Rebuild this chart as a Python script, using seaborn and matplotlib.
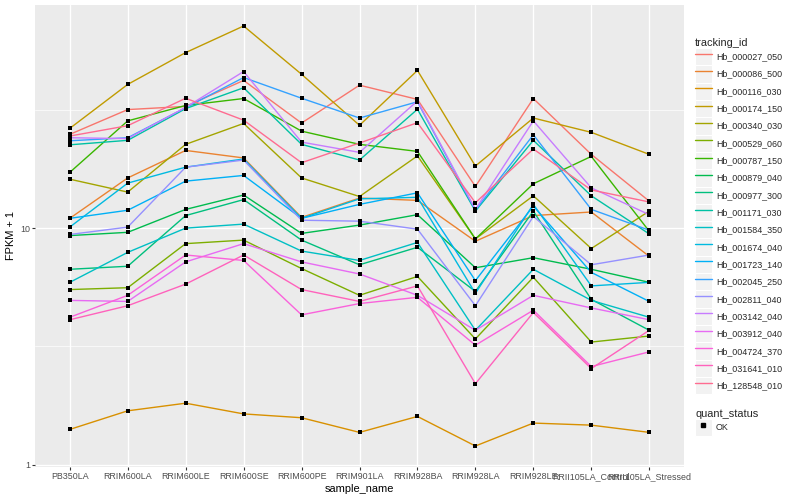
import numpy as np
import pandas as pd
import matplotlib
matplotlib.use("Agg")
import matplotlib.pyplot as plt
import seaborn as sns
from matplotlib.lines import Line2D
from matplotlib.patches import Rectangle
from matplotlib.legend_handler import HandlerLine2D
from matplotlib.ticker import FixedLocator, NullFormatter

# Данные: FPKM + 1 по образцам
samples = ["PB350LA", "RRIM600LA", "RRIM600LE", "RRIM600SE", "RRIM600PE", "RRIM901LA",
           "RRIM928BA", "RRIM928LA", "RRIM928LE", "RRII105LA_Control", "RRII105LA_Stressed"]

tracking_ids = ["Hb_000027_050", "Hb_000086_500", "Hb_000116_030", "Hb_000174_150",
                "Hb_000340_030", "Hb_000529_060", "Hb_000787_150", "Hb_000879_040",
                "Hb_000977_300", "Hb_001171_030", "Hb_001584_350", "Hb_001674_040",
                "Hb_001723_140", "Hb_002045_250", "Hb_002811_040", "Hb_003142_040",
                "Hb_003912_040", "Hb_004724_370", "Hb_031641_010", "Hb_128548_010"]

hb_000027_050 = [24.9, 31.7, 32.7, 42.1, 27.8, 40.2, 35.0, 15.0, 35.3, 20.5, 13.0]
hb_000086_500 = [11.0, 16.3, 21.3, 19.8, 11.1, 13.4, 13.1, 8.8, 11.3, 11.7, 7.6]
hb_000116_030 = [1.41, 1.69, 1.82, 1.64, 1.58, 1.37, 1.60, 1.20, 1.50, 1.47, 1.37]
hb_000174_150 = [26.4, 40.5, 55.2, 71.5, 44.7, 27.2, 46.4, 18.3, 29.2, 25.4, 20.5]
hb_000340_030 = [16.1, 14.2, 22.6, 27.7, 16.3, 13.6, 20.2, 9.0, 13.7, 8.2, 11.8]
hb_000529_060 = [5.5, 5.6, 8.6, 8.9, 6.75, 5.2, 6.25, 3.4, 6.2, 3.3, 3.5]
hb_000787_150 = [17.2, 28.4, 33.0, 35.3, 25.7, 22.6, 21.1, 9.0, 15.4, 20.1, 9.7]
hb_000879_040 = [9.3, 9.6, 12.0, 13.8, 9.5, 10.3, 11.4, 6.8, 7.5, 6.7, 5.9]
hb_000977_300 = [6.7, 6.9, 11.3, 13.2, 8.9, 7.0, 8.3, 5.4, 11.8, 5.0, 3.7]
hb_001171_030 = [22.5, 23.5, 32.0, 39.2, 22.6, 19.4, 31.8, 11.8, 23.5, 13.7, 9.45]
hb_001584_350 = [5.9, 7.9, 10.0, 10.4, 8.0, 7.3, 8.7, 3.7, 6.7, 4.95, 4.2]
hb_001674_040 = [10.1, 15.5, 18.1, 19.6, 11.0, 13.3, 13.5, 5.3, 12.6, 5.7, 5.9]
hb_001723_140 = [11.0, 11.9, 15.8, 16.7, 11.0, 12.6, 14.1, 6.0, 12.4, 6.5, 4.9]
hb_002045_250 = [23.4, 24.1, 32.3, 43.3, 35.4, 29.2, 34.2, 11.9, 24.8, 12.0, 9.8]
hb_002811_040 = [9.4, 10.1, 18.1, 19.4, 10.8, 10.7, 9.9, 4.7, 11.2, 7.0, 7.7]
hb_003142_040 = [24.1, 23.9, 32.4, 45.9, 23.1, 20.9, 34.5, 12.0, 28.4, 14.8, 11.4]
hb_003912_040 = [4.95, 4.9, 7.2, 8.6, 7.2, 6.4, 5.2, 3.7, 5.2, 4.6, 4.1]
hb_004724_370 = [4.2, 5.2, 7.7, 7.3, 4.3, 4.8, 5.1, 3.2, 4.5, 2.6, 3.0]
hb_031641_010 = [4.1, 4.7, 5.8, 7.7, 5.5, 4.9, 5.7, 2.2, 4.4, 2.55, 3.7]
hb_128548_010 = [24.5, 27.1, 35.4, 28.6, 18.9, 22.9, 27.9, 12.8, 21.6, 14.5, 12.9]

series = [hb_000027_050, hb_000086_500, hb_000116_030, hb_000174_150, hb_000340_030,
          hb_000529_060, hb_000787_150, hb_000879_040, hb_000977_300, hb_001171_030,
          hb_001584_350, hb_001674_040, hb_001723_140, hb_002045_250, hb_002811_040,
          hb_003142_040, hb_003912_040, hb_004724_370, hb_031641_010, hb_128548_010]

quant_status = "OK"

# палитра ggplot (hue_pal, 20 уровней)
hue_colors = ["#F8766D", "#EA8331", "#D89000", "#C09B00", "#A3A500", "#7CAE00", "#39B600",
              "#00BB4E", "#00BF7D", "#00C1A3", "#00BFC4", "#00BAE0", "#00B0F6", "#35A2FF",
              "#9590FF", "#C77CFF", "#E76BF3", "#FA62DB", "#FF62BC", "#FF6C91"]

rows = []
for tid, vals in zip(tracking_ids, series):
    for s, v in zip(samples, vals):
        rows.append({"tracking_id": tid, "sample_name": s, "fpkm": v, "quant_status": quant_status})
df = pd.DataFrame(rows)

sns.set_theme(style="darkgrid", rc={"axes.facecolor": "#EBEBEB", "grid.color": "white"})
plt.rcParams["font.family"] = ["Liberation Sans", "DejaVu Sans"]

fig = plt.figure(figsize=(8, 5), dpi=100)
ax = fig.add_axes([35 / 800, 33 / 500, 649 / 800, 462 / 500])
ax.set_yscale("log")

sns.lineplot(data=df, x="sample_name", y="fpkm", hue="tracking_id", palette=hue_colors,
             linewidth=1.0, sort=False, estimator=None, legend=False, ax=ax)
sns.scatterplot(data=df, x="sample_name", y="fpkm", color="black", marker="s", s=8,
                linewidth=0, legend=False, ax=ax, zorder=3)

# пределы как в ggplot (5% в лог-пространстве)
lo, hi = np.log10(df["fpkm"].min()), np.log10(df["fpkm"].max())
pad = 0.05 * (hi - lo)
ax.set_ylim(10 ** (lo - pad), 10 ** (hi + pad))
ax.set_xlim(-0.6, len(samples) - 0.4)

ax.set_yticks([1, 10])
ax.set_yticklabels(["1", "10"])
ax.yaxis.set_minor_locator(FixedLocator([10 ** 0.5, 10 ** 1.5]))
ax.yaxis.set_minor_formatter(NullFormatter())

ax.grid(which="major", color="white", linewidth=1.0)
ax.grid(which="minor", axis="y", color="white", linewidth=0.5)
ax.set_axisbelow(True)
for sp in ax.spines.values():
    sp.set_visible(False)

ax.tick_params(axis="both", which="major", length=2, width=0.8, color="#333333",
               labelcolor="#4D4D4D", labelsize=6.4, pad=1.6, bottom=True, left=True)
ax.tick_params(axis="y", which="minor", length=0)

ax.set_xlabel("sample_name", fontsize=7.9, color="black", labelpad=2)
ax.set_ylabel("FPKM + 1", fontsize=7.9, color="black", labelpad=3)


# ключи легенды на сером фоне, как в ggplot
class KeyHandler(HandlerLine2D):
    def create_artists(self, legend, orig_handle, xdescent, ydescent, width, height, fontsize, trans):
        arts = super().create_artists(legend, orig_handle, xdescent, ydescent, width, height, fontsize, trans)
        rect = Rectangle((-xdescent, -ydescent), width, height, facecolor="#F2F2F2",
                         edgecolor="white", linewidth=0.8, transform=trans)
        return [rect] + list(arts)


legend_kw = dict(loc="upper left", frameon=False, fontsize=6.4, title_fontsize=7.9,
                 handlelength=1.9, handleheight=2.62, labelspacing=0, handletextpad=0.45,
                 borderpad=0, borderaxespad=0, handler_map={Line2D: KeyHandler()})

line_handles = [Line2D([0], [0], color=c, lw=1.0) for c in hue_colors]
leg1 = fig.legend(line_handles, tracking_ids, title="tracking_id",
                  bbox_to_anchor=(695 / 800, 1 - 38 / 500), **legend_kw)
leg1._legend_box.align = "left"

point_handle = [Line2D([0], [0], color="black", marker="s", linestyle="none", markersize=2.8)]
leg2 = fig.legend(point_handle, [quant_status], title="quant_status",
                  bbox_to_anchor=(695 / 800, 1 - 409 / 500), **legend_kw)
leg2._legend_box.align = "left"

fig.savefig("out.png", dpi=100)
